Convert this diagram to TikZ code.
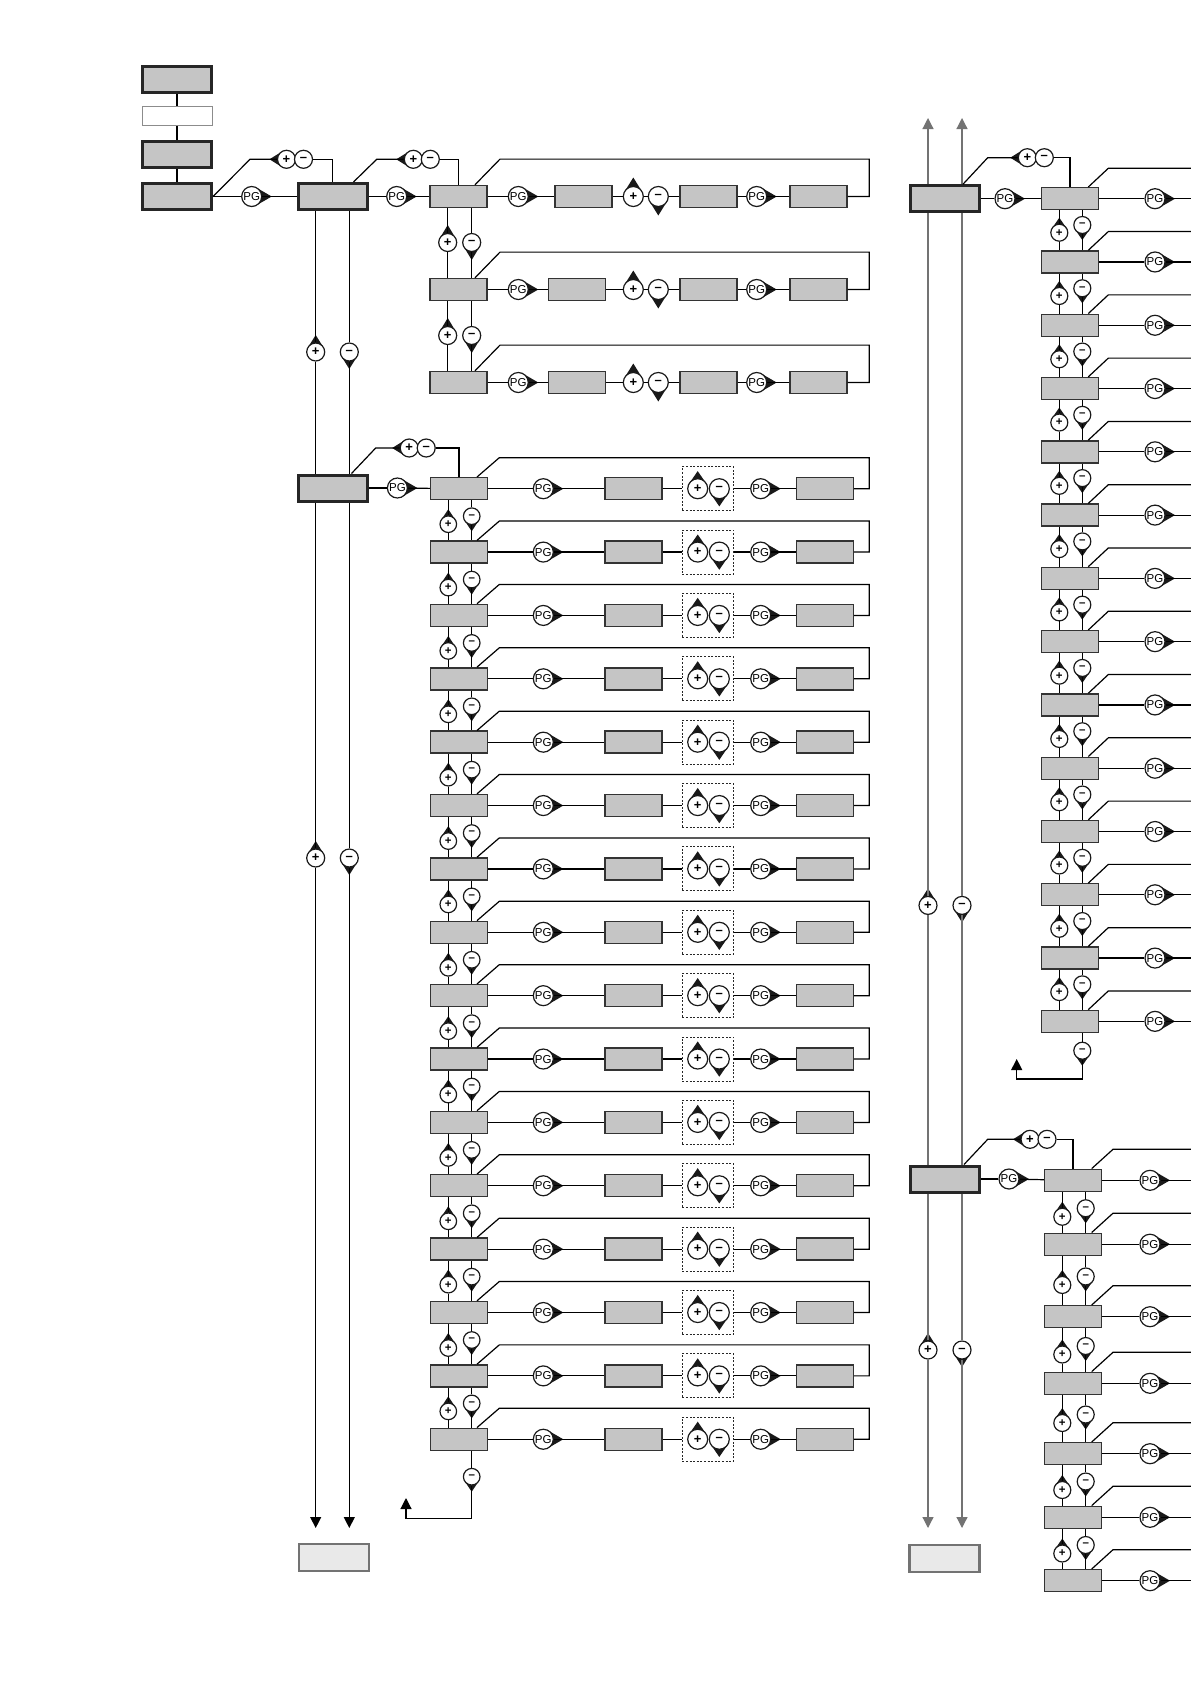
\documentclass[tikz,border=0pt]{standalone}
\usepackage{fontspec}
\setsansfont{Liberation Sans}
\usetikzlibrary{arrows.meta}
\definecolor{boxgray}{RGB}{197,197,197}
\definecolor{footgray}{RGB}{233,233,233}

% circle with a pointed tip: name, x, y, tip angle, radius, tip distance, style, text
\newcommand{\tipnode}[8]{%
  \fill[black!90, shift={(#2,#3)}, x=1pt, y=1pt, rotate=#4]
    (#6,0) -- ({#5*#5/#6},{#5*sqrt(1-(#5/#6)^2)})
    -- ({#5*#5/#6},{-#5*sqrt(1-(#5/#6)^2)}) -- cycle;
  \node[#7, minimum size=2*#5] (#1) at (#2,#3) {#8};}

\begin{document}
\begin{tikzpicture}[x=1pt, y=-1pt, line width=1.2pt,
  >={Triangle[width=11pt,length=11pt]},
  headbox/.style={draw=black!85, fill=boxgray, line width=3pt, minimum width=69pt, minimum height=26pt, inner sep=0pt},
  itembox/.style={draw=black!80, fill=boxgray, line width=1.4pt, minimum width=57pt, minimum height=22pt, inner sep=0pt},
  blankbox/.style={draw=black!45, fill=white, line width=1pt, minimum width=70pt, minimum height=19pt, inner sep=0pt},
  footbox/.style={draw=black!55, fill=footgray, line width=2.5pt, minimum width=70pt, minimum height=27pt, inner sep=0pt},
  dashbox/.style={draw=black!85, dash pattern=on 2pt off 1.6pt, line width=0.9pt, minimum width=51pt, minimum height=44pt, inner sep=0pt},
  sgn/.style={circle, draw=black!90, fill=white, line width=1.2pt, inner sep=0pt, font=\sffamily\bfseries\fontsize{13}{13}\selectfont},
  sgns/.style={sgn, font=\sffamily\bfseries\fontsize{11.5}{11.5}\selectfont},
  pg/.style={sgn, font=\sffamily\fontsize{11.5}{11.5}\selectfont}]
  \useasboundingbox (0,0) rectangle (1191,1684);

  % top left column
  \node[headbox] (t1) at (177,79) {};
  \node[blankbox] (t2) at (177,116) {};
  \node[headbox] (t3) at (177,154.5) {};
  \node[headbox] (t4) at (177,196.5) {};
  \draw (t1) -- (t2);
  \draw (t2) -- (t3);
  \draw (t3) -- (t4);
  \node[headbox] (t5) at (332.5,196.5) {};
  \tipnode{pg0}{251.7}{196.5}{0}{10}{20}{pg}{PG}
  \draw (t4) -- (pg0);
  \draw (pg0) -- (t5);
  \tipnode{q1p}{286.5}{159.3}{180}{9}{17}{sgn}{+}
  \node[sgn, minimum size=18] (q1m) at (303.5,159.3) {–};
  \draw (t4.east) -- (250,159.3) -- (q1p);
  \draw (q1m) -| (t5.north);

  % first group, 3 rows
  \tipnode{pg1}{396.7}{196.5}{0}{10}{20}{pg}{PG}
  \tipnode{q2p}{413.3}{159.3}{180}{9}{17}{sgn}{+}
  \node[sgn, minimum size=18] (q2m) at (430.3,159.3) {–};
  \foreach \i/\ax in {0/583.3, 1/576.8, 2/576.8} {
    \pgfmathsetmacro\y{196.5+93*\i}
    \node[itembox] (la\i) at (458.5,\y) {};
    \tipnode{ga\i}{518.3}{\y}{0}{10}{20}{pg}{PG}
    \node[itembox] (aa\i) at (\ax,\y) {};
    \tipnode{pa\i}{633.3}{\y}{90}{10}{19}{sgn}{+}
    \tipnode{ma\i}{658.3}{\y}{-90}{10}{19}{sgn}{–}
    \node[itembox] (ba\i) at (708.3,\y) {};
    \tipnode{ha\i}{756.7}{\y}{0}{10}{20}{pg}{PG}
    \node[itembox] (ca\i) at (818.5,\y) {};
    \draw (la\i) -- (ga\i);
    \draw (ga\i) -- (aa\i);
    \draw (aa\i) -- (pa\i);
    \draw (pa\i) -- (ma\i);
    \draw (ma\i) -- (ba\i);
    \draw (ba\i) -- (ha\i);
    \draw (ha\i) -- (ca\i);
    \draw (ca\i.east) -- (869.3,\y) |- (500,\y-37.4) -- ([xshift=16.5pt]la\i.north);
  }
  \draw (t5) -- (pg1);
  \draw (pg1) -- (la0);
  \draw ([xshift=-15pt]t5.north east) -- (376.7,159.3) -- (q2p);
  \draw (q2m) -| (la0.north);
  \foreach \i in {0,1} {
    \pgfmathsetmacro\y{196.5+93*\i+46}
    \pgfmathtruncatemacro\n{\i+1}
    \tipnode{ua\i}{447.7}{\y}{90}{9}{17.5}{sgn}{+}
    \tipnode{da\i}{471.7}{\y}{-90}{9}{17.5}{sgn}{–}
    \draw (ua\i |- la\i.south) -- (ua\i);
    \draw (ua\i) -- (ua\i |- la\n.north);
    \draw (da\i |- la\i.south) -- (da\i);
    \draw (da\i) -- (da\i |- la\n.north);
  }

  % left trunk
  \node[headbox] (h2) at (332.5,488) {};
  \node[footbox] (f1) at (334,1557.5) {};
  \tipnode{vp1}{315.7}{352}{90}{9}{17}{sgn}{+}
  \tipnode{vm1}{349.3}{352}{-90}{9}{17}{sgn}{–}
  \tipnode{vp2}{315.7}{858}{90}{9}{17}{sgn}{+}
  \tipnode{vm2}{349.3}{858}{-90}{9}{17}{sgn}{–}
  \coordinate (le1) at (315.7,1528);
  \coordinate (le2) at (349.3,1528);
  \draw (vp1 |- t5.south) -- (vp1);
  \draw (vp1) -- (vp1 |- h2.north);
  \draw (vp1 |- h2.south) -- (vp2);
  \draw[->] (vp2) -- (le1);
  \draw (vm1 |- t5.south) -- (vm1);
  \draw (vm1) -- (vm1 |- h2.north);
  \draw (vm1 |- h2.south) -- (vm2);
  \draw[->] (vm2) -- (le2);

  % second group, 16 rows
  \tipnode{pg2}{397.4}{488}{0}{10}{20}{pg}{PG}
  \tipnode{q4p}{409.2}{448}{180}{9}{17}{sgn}{+}
  \node[sgn, minimum size=18] (q4m) at (426.2,448) {–};
  \foreach \k in {0,...,15} {
    \pgfmathsetmacro\y{488.7+63.37*\k}
    \node[itembox] (lb\k) at (459,\y) {};
    \tipnode{gb\k}{543.3}{\y}{0}{10}{20}{pg}{PG}
    \node[itembox] (ab\k) at (633.3,\y) {};
    \node[dashbox] (db\k) at (707.8,\y) {};
    \tipnode{pb\k}{697.7}{\y}{90}{10}{17.6}{sgn}{+}
    \tipnode{mb\k}{719.3}{\y}{-90}{10}{17.7}{sgn}{–}
    \tipnode{hb\k}{760.7}{\y}{0}{10}{20}{pg}{PG}
    \node[itembox] (cb\k) at (825,\y) {};
    \draw (lb\k) -- (gb\k);
    \draw (gb\k) -- (ab\k);
    \draw (ab\k) -- (db\k);
    \draw (db\k) -- (hb\k);
    \draw (hb\k) -- (cb\k);
    \draw (cb\k.east) -- (869.3,\y) |- (499.3,\y-31) -- ([xshift=18pt]lb\k.north);
  }
  \draw (h2) -- (pg2);
  \draw (pg2) -- (lb0);
  \draw ([xshift=-17pt]h2.north east) -- (375.7,448) -- (q4p);
  \draw (q4m) -| (lb0.north);
  \foreach \k in {0,...,14} {
    \pgfmathsetmacro\y{488.7+63.37*\k}
    \pgfmathtruncatemacro\n{\k+1}
    \tipnode{ub\k}{448.3}{\y+35.5}{90}{8.3}{15}{sgns}{+}
    \tipnode{eb\k}{471.7}{\y+27.5}{-90}{8.3}{15}{sgns}{–}
    \draw (ub\k |- lb\k.south) -- (ub\k);
    \draw (ub\k) -- (ub\k |- lb\n.north);
    \draw (eb\k |- lb\k.south) -- (eb\k);
    \draw (eb\k) -- (eb\k |- lb\n.north);
  }
  \tipnode{zb}{471.7}{1476.7}{-90}{8.3}{15}{sgns}{–}
  \coordinate (lret) at (406,1498);
  \draw (zb |- lb15.south) -- (zb);
  \draw[->] (zb) -- ++(0,42) -| (lret);

  % right trunk
  \node[headbox] (r1) at (945,198.7) {};
  \node[headbox] (r2) at (945,1179) {};
  \node[footbox] (f2) at (944.5,1558.5) {};
  \coordinate (rt1) at (928,118);
  \coordinate (rt2) at (962,118);
  \coordinate (rb1) at (928,1528);
  \coordinate (rb2) at (962,1528);
  \tipnode{rv1}{928}{905.4}{90}{9}{17}{sgn}{+}
  \tipnode{rw1}{962}{905.4}{-90}{9}{17}{sgn}{–}
  \tipnode{rv2}{928}{1350}{90}{9}{17}{sgn}{+}
  \tipnode{rw2}{962}{1350}{-90}{9}{17}{sgn}{–}
  \begin{scope}[draw=black!55]
    \draw[->] (rv1 |- r1.north) -- (rt1);
    \draw (rv1 |- r1.south) -- (rv1);
    \draw (rv1) -- (rv1 |- r2.north);
    \draw (rv1 |- r2.south) -- (rv2);
    \draw[->] (rv2) -- (rb1);
    \draw[->] (rw1 |- r1.north) -- (rt2);
    \draw (rw1 |- r1.south) -- (rw1);
    \draw (rw1) -- (rw1 |- r2.north);
    \draw (rw1 |- r2.south) -- (rw2);
    \draw[->] (rw2) -- (rb2);
  \end{scope}

  % right group 1, 14 rows
  \tipnode{pg3}{1005}{198.7}{0}{10}{20}{pg}{PG}
  \tipnode{q5p}{1027.3}{157.7}{180}{9}{17}{sgn}{+}
  \node[sgn, minimum size=18] (q5m) at (1044.3,157.7) {–};
  \foreach \j in {0,...,13} {
    \pgfmathsetmacro\y{198.7+63.28*\j}
    \node[itembox] (rc\j) at (1070,\y) {};
    \tipnode{rg\j}{1155}{\y}{0}{10}{20}{pg}{PG}
    \coordinate (rx\j) at (1191,\y);
    \draw (rc\j) -- (rg\j);
    \draw (rg\j) -- (rx\j);
    \draw ([xshift=18.3pt]rc\j.north) -- (1108.3,\y-30.4) -- (1191,\y-30.4);
  }
  \draw (r1) -- (pg3);
  \draw (pg3) -- (rc0);
  \draw ([xshift=-18pt]r1.north east) -- (987.7,157.7) -- (q5p);
  \draw (q5m) -| (rc0.north);
  \foreach \j in {0,...,12} {
    \pgfmathsetmacro\y{198.7+63.28*\j}
    \pgfmathtruncatemacro\n{\j+1}
    \tipnode{ru\j}{1059.3}{\y+34}{90}{8.5}{15}{sgns}{+}
    \tipnode{rd\j}{1082.3}{\y+26.3}{-90}{8.5}{15}{sgns}{–}
    \draw (ru\j |- rc\j.south) -- (ru\j);
    \draw (ru\j) -- (ru\j |- rc\n.north);
    \draw (rd\j |- rc\j.south) -- (rd\j);
    \draw (rd\j) -- (rd\j |- rc\n.north);
  }
  \tipnode{rz}{1082.3}{1050.7}{-90}{8.5}{15}{sgns}{–}
  \coordinate (rret) at (1016.7,1059);
  \draw (rz |- rc13.south) -- (rz);
  \draw[->] (rz) -- ++(0,28.3) -| (rret);

  % right group 2, 7 rows
  \tipnode{pg4}{1009}{1179}{0}{10}{20}{pg}{PG}
  \tipnode{q6p}{1030}{1139.3}{180}{9}{17}{sgn}{+}
  \node[sgn, minimum size=18] (q6m) at (1047,1139.3) {–};
  \foreach \y [count=\j from 0] in {1180.3,1244.2,1316.7,1383.3,1453.7,1517.3,1580.7} {
    \node[itembox] (re\j) at (1073,\y) {};
    \tipnode{rh\j}{1150}{\y}{0}{10}{20}{pg}{PG}
    \coordinate (ry\j) at (1191,\y);
    \draw (re\j) -- (rh\j);
    \draw (rh\j) -- (ry\j);
    \draw ([xshift=18.7pt]re\j.north) -- (1113,\y-31) -- (1191,\y-31);
  }
  \draw (r2) -- (pg4);
  \draw (pg4) -- (re0);
  \draw ([xshift=-17pt]r2.north east) -- (987.7,1139.3) -- (q6p);
  \draw (q6m) -| (re0.north);
  \foreach \ya/\yb [count=\j from 0] in {1180.3/1244.2, 1244.2/1316.7, 1316.7/1383.3, 1383.3/1453.7, 1453.7/1517.3, 1517.3/1580.7} {
    \pgfmathsetmacro\ym{(\ya+\yb)/2}
    \pgfmathtruncatemacro\n{\j+1}
    \tipnode{rk\j}{1062.3}{\ym+4.5}{90}{8.5}{15}{sgns}{+}
    \tipnode{rl\j}{1085.7}{\ym-4}{-90}{8.5}{15}{sgns}{–}
    \draw (rk\j |- re\j.south) -- (rk\j);
    \draw (rk\j) -- (rk\j |- re\n.north);
    \draw (rl\j |- re\j.south) -- (rl\j);
    \draw (rl\j) -- (rl\j |- re\n.north);
  }
\end{tikzpicture}
\end{document}
